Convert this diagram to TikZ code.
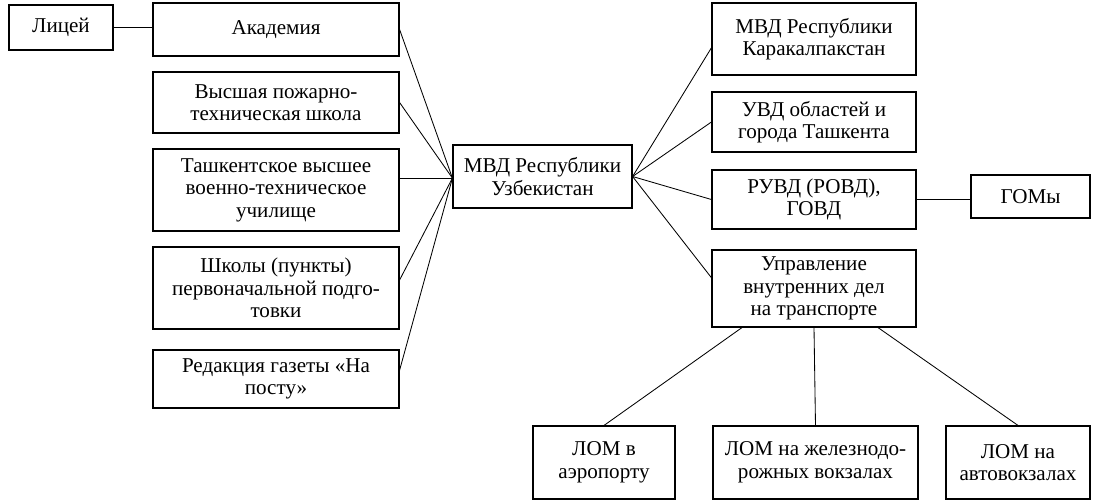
\documentclass[tikz,border=0pt]{standalone}
\usepackage{fontspec}
\setmainfont{Liberation Serif}
\usepackage{tikz}
\usetikzlibrary{calc,shapes,positioning}

\begin{document}
\begin{tikzpicture}[x=0.025cm, y=-0.025cm]
          \tikzstyle{unit} = [draw, line width=0.8pt, rectangle, inner sep = 2pt, align=center, font=\fontsize{15}{16}\selectfont]
          \tikzstyle{link} = [line width=0.6pt]

          \useasboundingbox (0, 0) rectangle (1093, 501);

          \node[unit, minimum width=2.6cm, minimum height=1.125cm] (licey) at (61, 27.5) {Лицей};
          \node[unit, minimum width=6.15cm, minimum height=1.325cm] (akad) at (276, 29.5) {Академия};
          \node[unit, minimum width=6.15cm, minimum height=1.525cm] (pozh) at (276, 102.5) {Высшая пожарно-\\техническая школа};
          \node[unit, minimum width=6.15cm, minimum height=2.05cm] (tash) at (276, 190) {Ташкентское высшее\\военно-техническое\\училище};
          \node[unit, minimum width=6.15cm, minimum height=2.05cm] (shkol) at (276, 288) {Школы (пункты)\\первоначальной подго-\\товки};
          \node[unit, minimum width=6.15cm, minimum height=1.45cm] (redak) at (276, 379) {Редакция газеты «На\\посту»};

          \node[unit, minimum width=4.475cm, minimum height=1.575cm] (mvd) at (542.5, 176.5) {МВД Республики\\Узбекистан};
          \coordinate (hub) at ([yshift=-0.04cm]mvd.west);

          \node[unit, minimum width=5.1cm, minimum height=1.8cm] (karak) at (814, 39) {МВД Республики\\Каракалпакстан};
          \node[unit, minimum width=5.1cm, minimum height=1.5cm] (uvd) at (814, 122) {УВД областей и\\города Ташкента};
          \node[unit, minimum width=5.1cm, minimum height=1.475cm] (ruvd) at (814, 199.5) {РУВД (РОВД),\\ГОВД};
          \node[unit, minimum width=5.1cm, minimum height=1.925cm] (uprav) at (814, 288.5) {Управление\\внутренних дел\\на транспорте};
          \node[unit, minimum width=2.975cm, minimum height=1.075cm] (goms) at (1030.5, 196.5) {ГОМы};

          \node[unit, minimum width=3.55cm, minimum height=1.825cm] (lom1) at (604, 462.5) {ЛОМ в\\аэропорту};
          \node[unit, minimum width=5.125cm, minimum height=1.825cm] (lom2) at (815.5, 462.5) {ЛОМ на железнодо-\\рожных вокзалах};
          \node[unit, minimum width=3.6cm, minimum height=1.825cm] (lom3) at (1018, 462.5) {ЛОМ на\\автовокзалах};

          \draw[link] (licey.east)--(licey.east -| akad.west);

          \draw[link] (akad.east)--(hub);
          \draw[link] (pozh.east)--(hub);
          \draw[link] (tash.east |- hub)--(hub);
          \draw[link] ([yshift=0.2cm]shkol.east)--(hub);
          \draw[link] ([yshift=0.22cm]redak.east)--(hub);

          \draw[link] (mvd.east)--([yshift=-0.22cm]karak.west);
          \draw[link] (mvd.east)--(uvd.west);
          \draw[link] (mvd.east)--(ruvd.west);
          \draw[link] (mvd.east)--([yshift=0.27cm]uprav.west);

          \draw[link] (ruvd.east)--(ruvd.east -| goms.west);

          \draw[link] ([xshift=-1.8cm]uprav.south)--(lom1.north);
          \draw[link] (uprav.south)--(lom2.north);
          \draw[link] ([xshift=1.6cm]uprav.south)--(lom3.north);
        \end{tikzpicture}
\end{document}
